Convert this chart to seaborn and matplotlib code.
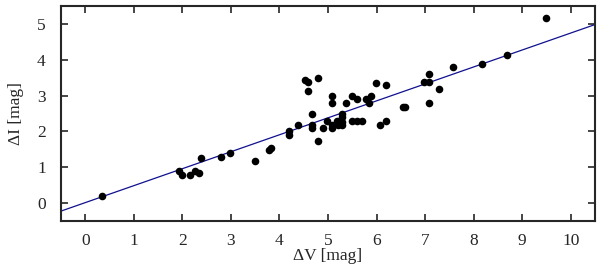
import matplotlib
matplotlib.use("Agg")
import matplotlib.pyplot as plt
import seaborn as sns
import numpy as np
import pandas as pd

# data
delta_v = [0.35, 1.94, 2.00, 2.15, 2.25, 2.34, 2.39, 2.79, 2.99, 3.49, 3.78, 3.83,
           4.19, 4.19, 4.38, 4.53, 4.59, 4.59, 4.80, 4.68, 4.68, 4.68, 4.89, 4.79,
           4.98, 5.08, 5.08, 5.08, 5.09, 5.18, 5.20, 5.29, 5.29, 5.29, 5.29, 5.38,
           5.49, 5.49, 5.59, 5.59, 5.69, 5.79, 5.84, 5.89, 5.99, 6.08, 6.19, 6.19,
           6.54, 6.59, 6.97, 7.08, 7.08, 7.08, 7.29, 7.58, 8.18, 8.69, 9.49]
delta_i = [0.20, 0.90, 0.79, 0.79, 0.88, 0.84, 1.26, 1.29, 1.39, 1.18, 1.49, 1.54,
           2.00, 1.89, 2.19, 3.44, 3.39, 3.14, 3.49, 2.49, 2.19, 2.09, 2.09, 1.74,
           2.30, 3.00, 2.79, 2.09, 2.19, 2.30, 2.19, 2.49, 2.40, 2.27, 2.19, 2.79,
           3.00, 2.30, 2.89, 2.30, 2.30, 2.89, 2.79, 2.99, 3.34, 2.19, 2.30, 3.29,
           2.69, 2.69, 3.39, 3.59, 3.39, 2.79, 3.19, 3.79, 3.88, 4.14, 5.18]
fit_slope = 0.474
fit_intercept = 0.007
x_ticks = list(range(0, 11))
y_ticks = list(range(0, 6))

df = pd.DataFrame({"dV": delta_v, "dI": delta_i})

sns.set_style("ticks")
plt.rcParams["font.family"] = ["Liberation Serif", "DejaVu Serif"]

fig = plt.figure(figsize=(6.0, 2.65), dpi=100)
ax = fig.add_axes([0.1017, 0.167, 0.8900, 0.810])

line_x = np.array([-0.5, 10.5])
line_df = pd.DataFrame({"x": line_x, "y": fit_slope * line_x + fit_intercept})
sns.lineplot(data=line_df, x="x", y="y", ax=ax, color="#10108f", linewidth=0.9)
sns.scatterplot(data=df, x="dV", y="dI", ax=ax, color="black", s=30,
                edgecolor="black", linewidth=0, zorder=3)

ax.set_xlim(-0.5, 10.5)
ax.set_ylim(-0.5, 5.5)
ax.set_xticks(x_ticks)
ax.set_yticks(y_ticks)
ax.tick_params(direction="in", length=5, width=1.2, top=True, right=True,
               labelsize=12.5, labeltop=False, labelright=False)
ax.tick_params(axis="x", pad=9)
ax.tick_params(axis="y", pad=11)
for sp in ax.spines.values():
    sp.set_visible(True)
    sp.set_linewidth(1.5)
ax.set_xlabel("ΔV [mag]", fontsize=12.5, labelpad=-1)
ax.set_ylabel("ΔI [mag]", fontsize=12.5, labelpad=9)

fig.savefig("out.png", dpi=100)
